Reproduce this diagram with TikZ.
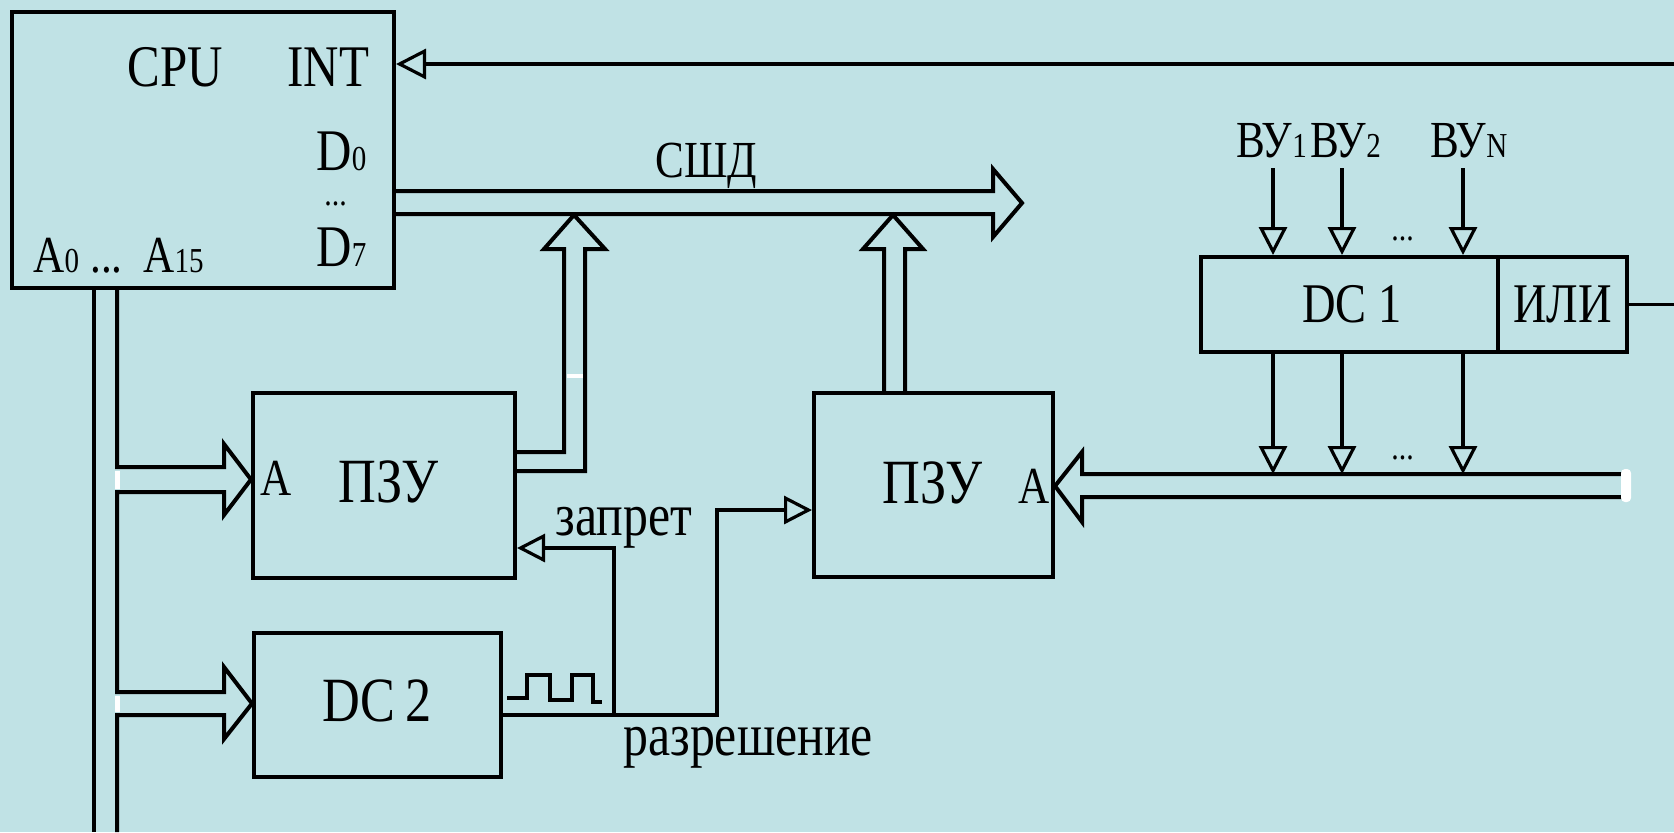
\documentclass[tikz,border=0pt]{standalone}
\usepackage{fontspec}
\setmainfont{Liberation Serif}[FakeStretch=0.83]
\usetikzlibrary{arrows.meta}
\definecolor{bg}{HTML}{C0E2E5}
\begin{document}
\begin{tikzpicture}[x=0.5pt,y=-0.5pt,line join=miter,
  ln/.style={line width=2pt},
  sig/.style={line width=1.6pt},
  box/.style={draw,line width=2pt,inner sep=0pt},
  oarr/.style={sig,-{Triangle[open,length=14pt,width=14pt]}},
  lbl/.style={inner sep=0pt,anchor=base west},
  fbig/.style={font=\fontsize{31.5pt}{32pt}\selectfont},
  fmid/.style={font=\fontsize{29.5pt}{30pt}\selectfont},
  fdc/.style={font=\fontsize{28pt}{30pt}\selectfont},
  fa/.style={font=\fontsize{26pt}{28pt}\selectfont},
  fvu/.style={font=\fontsize{26pt}{27pt}\selectfont},
  fword/.style={font=\fontsize{30pt}{31pt}\selectfont},
  fdots/.style={font=\fontsize{18pt}{18pt}\selectfont}]
\newcommand{\sbs}[1]{{\fontsize{17.5pt}{17pt}\selectfont #1}}
% background / bounding box
\fill[bg] (0,0) rectangle (1674,832);
\useasboundingbox (0,0) rectangle (1674,832);

% boxes
\node[box,minimum width=191pt,minimum height=138pt] (cpu) at (203,150) {};
\node[box,minimum width=131pt,minimum height=92.5pt] (pzu1) at (384,485.5) {};
\node[box,minimum width=119.5pt,minimum height=92pt] (pzu2) at (933.5,485) {};
\node[box,minimum width=123.5pt,minimum height=72pt] (dc2) at (377.5,705) {};
\node[box,minimum width=148.5pt,minimum height=47.5pt] (dc1) at (1349.5,304.5) {};
\node[box,minimum width=64.5pt,minimum height=47.5pt] (ili) at (1562.5,304.5) {};

% texts in CPU
\node[lbl,fmid] (tcpu) at (127,86) {CPU};
\node[lbl,fmid] (tint) at (287,86) {INT};
\node[lbl,fmid] (td0) at (316,170) {D\sbs{0}};
\node[lbl,fdots] (tdd) at (324,205) {...};
\node[lbl,fmid] (td7) at (316,266) {D\sbs{7}};
\node[lbl,fa] (ta0) at (33,272) {A\sbs{0}};
\node[lbl,fa] (tad) at (90,272) {...};
\node[lbl,fa] (ta15) at (143,272) {A\sbs{15}};

% other texts
\node[lbl,fvu] (tsshd) at (655,177) {СШД};
\node[lbl,fa] (tpa1) at (260,495) {A};
\node[lbl,fbig] (tpzu1) at (338,502) {ПЗУ};
\node[lbl,fbig] (tpzu2) at (882,503) {ПЗУ};
\node[lbl,fa] (tpa2) at (1018,503) {A};
\node[lbl,fbig] (tdc2) at (322,721) {DC\,2};
\node[lbl,fdc] (tdc1) at (1302,322) {DC 1};
\node[lbl,fdc] (tili) at (1513,322) {ИЛИ};
\node[lbl,fvu] (tvu1) at (1236,157) {ВУ\sbs{1}};
\node[lbl,fvu] (tvu2) at (1310,157) {ВУ\sbs{2}};
\node[lbl,fvu] (tvun) at (1430,157) {ВУ\sbs{N}};
\node[lbl,fdots] (tdots1) at (1391,240) {...};
\node[lbl,fdots] (tdots2) at (1391,459) {...};
\node[lbl,fword] (tzap) at (555,535) {запрет};
\node[lbl,fword] (traz) at (623,755) {разрешение};

% INT line and OR output
\coordinate (redge) at (1674,64);
\draw[sig,-{Triangle[open,length=15pt,width=15pt]}] (redge) -- (cpu.east |- redge);
\draw[sig] (ili.east) -- (ili.east -| redge);

% data bus
\draw[ln] (cpu.east |- 0,191) -- (993,191) -- (993,169) -- (1022,203) -- (993,237) -- (993,214) -- (cpu.east |- 0,214);
\draw[ln] (pzu1.east |- 0,452) -- (564,452) -- (564,249) -- (544,249) -- (574,215) -- (605,249) -- (585,249) -- (585,471) -- (pzu1.east |- 0,471);
\draw[ln] (884,0 |- pzu2.north) -- (884,249) -- (863,249) -- (893,215) -- (923,249) -- (905,249) -- (905,0 |- pzu2.north);
\fill[white] (566.5,373.5) rectangle (582.5,378);

% address bus
\coordinate (abot) at (94,832);
\draw[ln] (94,0 |- cpu.south) -- (abot);
\draw[ln] (117,0 |- cpu.south) -- (117,467) -- (224,467) -- (224,444) -- (pzu1.west |- 0,479.5) -- (224,515) -- (224,492) -- (117,492)
  -- (117,692) -- (224,692) -- (224,667) -- (dc2.west |- 0,703.5) -- (224,739) -- (224,715) -- (117,715) -- (117,832);
\fill[white] (115,470.5) rectangle (119.5,488.5);
\fill[white] (115,695.5) rectangle (119.5,711.5);

% lower address bus to PZU2
\draw[ln] (1625,474) -- (1082,474) -- (1082,452) -- (pzu2.east |- 0,486) -- (1082,522) -- (1082,497) -- (1625,497);
\fill[white,rounded corners=2pt] (1621,469) rectangle (1631,502);

% DC1 inputs/outputs
\foreach \xx in {1273,1342,1463}{
  \draw[oarr] (\xx,168) -- (\xx,0 |- dc1.north);
  \draw[oarr] (\xx,0 |- dc1.south) -- (\xx,474);
}

% DC2 output: strobe, enable, inhibit
\draw[sig] (507,698) -- (527,698) -- (527,675) -- (550,675) -- (550,700) -- (572,700) -- (572,675) -- (593,675) -- (593,702) -- (602,702);
\draw[oarr] (dc2.east |- 0,715) -- (717,715) -- (717,510) -- (pzu2.west |- 0,510);
\draw[oarr] (614,715) -- (614,548) -- (pzu1.east |- 0,548);
\end{tikzpicture}
\end{document}
